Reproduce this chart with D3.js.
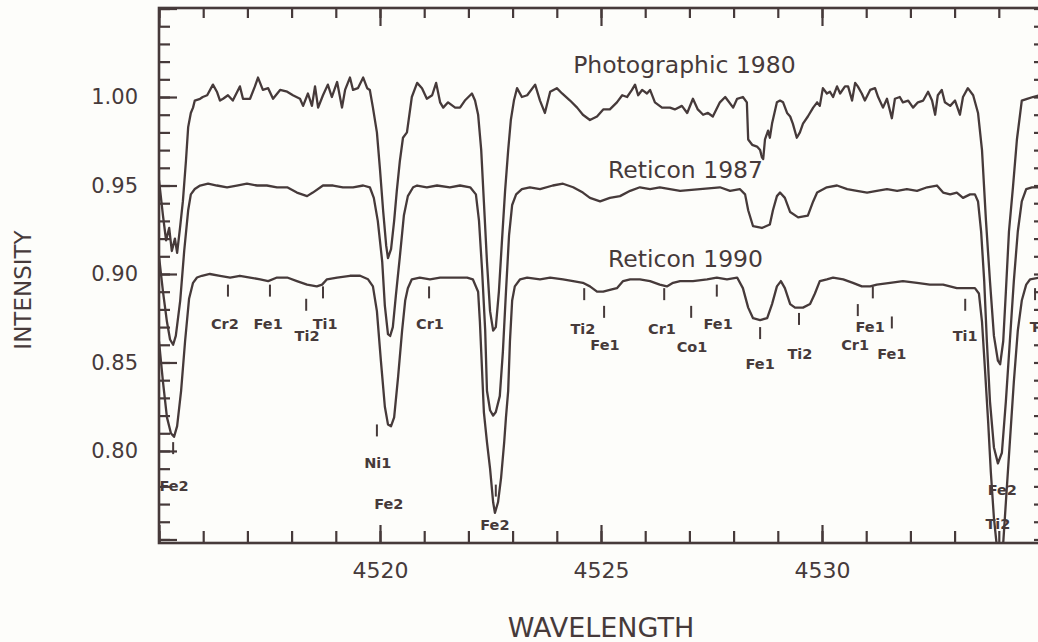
<html>
<head>
<meta charset="UTF-8"/>
<script src="https://d3js.org/d3.v7.min.js"></script>
<title>spectra</title>
<style>
body{margin:0;background:#fdfdfa;}
</style>
</head>
<body>
<svg id='big' width=1038 height=642></svg>
<script>
'use strict';

// axis ticks
var waveMajor = [4515, 4520, 4525, 4530, 4535];
var waveLabels = [4520, 4525, 4530];
var levelMajor = [0.75, 0.80, 0.85, 0.90, 0.95, 1.00, 1.05];
var levelLabels = [0.80, 0.85, 0.90, 0.95, 1.00];

var seriesNames = ['Photographic 1980', 'Reticon 1987', 'Reticon 1990'];

// [wavelength, intensity]
var photographic1980 = [
[4515.00,0.953],[4515.09,0.933],[4515.16,0.919],[4515.23,0.926],[4515.29,0.913],[4515.36,0.920],
[4515.41,0.912],[4515.48,0.927],[4515.54,0.941],[4515.61,0.964],[4515.66,0.983],[4515.72,0.991],
[4515.77,0.994],[4515.81,0.998],[4515.93,0.999],[4515.99,1.000],[4516.09,1.001],[4516.22,1.007],
[4516.31,1.003],[4516.38,0.998],[4516.45,0.999],[4516.56,1.001],[4516.67,0.998],[4516.83,1.006],
[4516.90,0.999],[4517.06,0.999],[4517.17,1.006],[4517.24,1.011],[4517.35,1.004],[4517.47,1.005],
[4517.58,0.999],[4517.74,1.004],[4517.90,1.003],[4518.03,1.001],[4518.19,0.999],[4518.26,0.995],
[4518.37,1.002],[4518.46,0.995],[4518.53,1.006],[4518.60,0.994],[4518.71,1.001],[4518.82,1.007],
[4518.91,1.000],[4519.03,1.0085],[4519.14,0.994],[4519.21,1.004],[4519.32,1.011],[4519.39,1.004],
[4519.50,1.005],[4519.62,1.011],[4519.71,1.005],[4519.77,1.004],[4519.84,0.994],[4519.93,0.980],
[4520.00,0.959],[4520.07,0.936],[4520.14,0.916],[4520.18,0.909],[4520.25,0.914],[4520.32,0.930],
[4520.38,0.947],[4520.45,0.964],[4520.52,0.977],[4520.61,0.980],[4520.72,1.000],[4520.84,1.008],
[4520.95,1.005],[4521.06,0.999],[4521.18,1.001],[4521.27,1.008],[4521.36,0.997],[4521.43,0.994],
[4521.54,0.997],[4521.70,0.994],[4521.81,0.994],[4521.92,0.998],[4522.08,1.002],[4522.15,0.998],
[4522.22,0.990],[4522.29,0.970],[4522.35,0.941],[4522.42,0.907],[4522.49,0.879],[4522.56,0.868],
[4522.62,0.870],[4522.69,0.890],[4522.76,0.919],[4522.83,0.947],[4522.90,0.970],[4522.96,0.987],
[4523.03,0.998],[4523.10,1.005],[4523.21,1.000],[4523.33,1.001],[4523.51,1.007],[4523.62,0.998],
[4523.73,0.991],[4523.85,1.003],[4524.00,1.005],[4524.12,1.002],[4524.30,0.998],[4524.46,0.994],
[4524.59,0.990],[4524.75,0.987],[4524.91,0.989],[4525.05,0.993],[4525.20,0.993],[4525.36,0.997],
[4525.48,1.001],[4525.59,1.000],[4525.70,1.004],[4525.77,1.007],[4525.84,1.001],[4525.93,1.004],
[4526.04,1.002],[4526.11,1.004],[4526.22,0.997],[4526.38,0.994],[4526.56,0.994],[4526.67,0.993],
[4526.83,0.995],[4526.95,0.991],[4527.08,0.999],[4527.19,0.993],[4527.31,0.990],[4527.42,0.991],
[4527.53,0.989],[4527.69,0.997],[4527.81,1.000],[4527.87,0.998],[4527.99,0.994],[4528.08,0.999],
[4528.21,1.000],[4528.30,0.997],[4528.33,0.976],[4528.42,0.973],[4528.53,0.972],[4528.60,0.970],
[4528.64,0.966],[4528.67,0.965],[4528.71,0.976],[4528.78,0.981],[4528.82,0.977],[4528.87,0.985],
[4528.98,0.997],[4529.05,0.998],[4529.12,0.997],[4529.21,0.991],[4529.28,0.989],[4529.34,0.985],
[4529.43,0.977],[4529.50,0.980],[4529.57,0.985],[4529.68,0.989],[4529.80,0.994],[4529.89,0.997],
[4529.95,0.995],[4530.02,1.005],[4530.11,1.002],[4530.18,1.003],[4530.25,1.000],[4530.34,1.006],
[4530.41,1.002],[4530.52,1.006],[4530.59,1.006],[4530.68,0.998],[4530.75,1.008],[4530.81,1.006],
[4530.90,1.002],[4530.97,0.998],[4531.09,1.004],[4531.20,1.005],[4531.27,1.000],[4531.38,0.994],
[4531.47,0.999],[4531.58,0.988],[4531.65,0.999],[4531.76,1.000],[4531.83,0.997],[4531.95,0.998],
[4532.06,0.994],[4532.17,0.997],[4532.29,0.998],[4532.40,1.003],[4532.49,0.998],[4532.56,0.990],
[4532.62,1.001],[4532.71,1.004],[4532.78,0.997],[4532.90,0.995],[4533.01,0.998],[4533.12,0.990],
[4533.19,1.000],[4533.30,1.005],[4533.42,1.001],[4533.53,0.991],[4533.62,0.970],[4533.71,0.930],
[4533.80,0.896],[4533.89,0.865],[4533.98,0.851],[4534.03,0.849],[4534.10,0.862],[4534.16,0.890],
[4534.23,0.924],[4534.32,0.949],[4534.41,0.976],[4534.52,0.998],[4534.64,0.999],[4534.77,1.000],
[4534.93,1.001]
];

var reticon1987 = [
[4515.00,0.910],[4515.09,0.890],[4515.18,0.873],[4515.25,0.863],[4515.32,0.860],[4515.38,0.865],
[4515.48,0.885],[4515.57,0.913],[4515.66,0.936],[4515.72,0.945],[4515.81,0.948],[4515.93,0.950],
[4516.11,0.951],[4516.31,0.950],[4516.54,0.949],[4516.76,0.950],[4516.99,0.951],[4517.22,0.950],
[4517.44,0.950],[4517.67,0.949],[4517.90,0.949],[4518.12,0.946],[4518.35,0.944],[4518.48,0.946],
[4518.71,0.950],[4518.94,0.950],[4519.16,0.949],[4519.39,0.949],[4519.62,0.950],[4519.77,0.949],
[4519.86,0.943],[4519.95,0.930],[4520.05,0.907],[4520.11,0.882],[4520.18,0.866],[4520.23,0.865],
[4520.29,0.870],[4520.36,0.888],[4520.45,0.910],[4520.54,0.933],[4520.63,0.944],[4520.75,0.949],
[4520.84,0.950],[4521.06,0.949],[4521.29,0.950],[4521.58,0.949],[4521.81,0.950],[4522.04,0.949],
[4522.17,0.945],[4522.24,0.930],[4522.31,0.902],[4522.38,0.868],[4522.42,0.834],[4522.49,0.823],
[4522.56,0.820],[4522.62,0.822],[4522.71,0.831],[4522.78,0.856],[4522.85,0.890],[4522.92,0.922],
[4522.99,0.939],[4523.08,0.945],[4523.21,0.948],[4523.39,0.949],[4523.62,0.948],[4523.91,0.950],
[4524.14,0.951],[4524.37,0.949],[4524.59,0.946],[4524.75,0.943],[4524.98,0.941],[4525.20,0.943],
[4525.43,0.944],[4525.66,0.947],[4525.88,0.949],[4526.11,0.948],[4526.33,0.949],[4526.79,0.947],
[4527.24,0.948],[4527.69,0.949],[4527.92,0.947],[4528.14,0.948],[4528.26,0.945],[4528.33,0.936],
[4528.44,0.927],[4528.64,0.926],[4528.82,0.928],[4528.89,0.936],[4528.98,0.944],[4529.05,0.946],
[4529.16,0.943],[4529.28,0.935],[4529.46,0.932],[4529.68,0.933],[4529.80,0.941],[4529.89,0.946],
[4530.11,0.949],[4530.34,0.950],[4530.57,0.948],[4530.79,0.947],[4531.02,0.946],[4531.24,0.947],
[4531.47,0.948],[4531.70,0.947],[4531.92,0.948],[4532.15,0.947],[4532.38,0.949],[4532.60,0.950],
[4532.74,0.946],[4532.90,0.945],[4533.05,0.946],[4533.19,0.943],[4533.35,0.945],[4533.46,0.945],
[4533.53,0.941],[4533.60,0.924],[4533.67,0.896],[4533.73,0.862],[4533.80,0.828],[4533.89,0.802],
[4533.98,0.793],[4534.07,0.799],[4534.16,0.828],[4534.25,0.862],[4534.34,0.896],[4534.43,0.924],
[4534.52,0.941],[4534.62,0.948],[4534.75,0.949],[4534.93,0.949]
];

var reticon1990 = [
[4515.00,0.862],[4515.09,0.839],[4515.18,0.819],[4515.27,0.810],[4515.34,0.808],[4515.41,0.814],
[4515.50,0.834],[4515.59,0.862],[4515.68,0.886],[4515.77,0.895],[4515.86,0.898],[4515.97,0.899],
[4516.15,0.900],[4516.38,0.899],[4516.61,0.898],[4516.83,0.899],[4517.06,0.898],[4517.29,0.897],
[4517.47,0.896],[4517.67,0.898],[4517.90,0.898],[4518.12,0.896],[4518.35,0.894],[4518.57,0.893],
[4518.69,0.894],[4518.80,0.897],[4519.03,0.898],[4519.32,0.899],[4519.55,0.899],[4519.73,0.897],
[4519.84,0.893],[4519.93,0.879],[4520.02,0.851],[4520.11,0.825],[4520.18,0.815],[4520.25,0.814],
[4520.32,0.819],[4520.41,0.842],[4520.50,0.868],[4520.57,0.885],[4520.63,0.892],[4520.72,0.897],
[4520.90,0.898],[4521.13,0.897],[4521.36,0.898],[4521.65,0.898],[4521.97,0.898],[4522.10,0.897],
[4522.22,0.890],[4522.26,0.873],[4522.31,0.845],[4522.35,0.822],[4522.42,0.805],[4522.49,0.790],
[4522.56,0.771],[4522.60,0.765],[4522.67,0.771],[4522.74,0.785],[4522.81,0.805],[4522.85,0.819],
[4522.90,0.834],[4522.94,0.862],[4522.99,0.885],[4523.05,0.893],[4523.17,0.897],[4523.33,0.898],
[4523.62,0.897],[4523.85,0.898],[4524.14,0.897],[4524.37,0.896],[4524.59,0.895],[4524.75,0.893],
[4524.91,0.890],[4525.05,0.890],[4525.20,0.891],[4525.36,0.892],[4525.50,0.896],[4525.66,0.897],
[4525.88,0.897],[4526.11,0.896],[4526.33,0.894],[4526.49,0.893],[4526.63,0.895],[4526.79,0.896],
[4527.08,0.896],[4527.40,0.897],[4527.62,0.898],[4527.85,0.897],[4528.08,0.898],[4528.21,0.892],
[4528.33,0.881],[4528.44,0.875],[4528.60,0.874],[4528.76,0.875],[4528.87,0.883],[4528.98,0.893],
[4529.07,0.896],[4529.16,0.892],[4529.28,0.883],[4529.39,0.881],[4529.57,0.881],[4529.73,0.883],
[4529.84,0.889],[4529.95,0.896],[4530.11,0.897],[4530.25,0.898],[4530.48,0.897],[4530.70,0.895],
[4530.90,0.893],[4531.09,0.893],[4531.24,0.894],[4531.54,0.895],[4531.83,0.896],[4532.15,0.895],
[4532.44,0.894],[4532.74,0.894],[4533.05,0.892],[4533.28,0.892],[4533.46,0.892],[4533.55,0.889],
[4533.62,0.873],[4533.69,0.845],[4533.76,0.816],[4533.82,0.788],[4533.89,0.762],[4533.96,0.745],
[4534.03,0.740],[4534.10,0.748],[4534.16,0.771],[4534.25,0.805],[4534.34,0.839],[4534.43,0.868],
[4534.52,0.885],[4534.62,0.894],[4534.71,0.897],[4534.93,0.898]
];

// line identifications: tick at wave/top, label at lw/ly
var lineIds = [
{name:'Fe2', wave:4515.32, top:0.805, lw:4515.34, ly:0.780},
{name:'Cr2', wave:4516.56, top:0.894, lw:4516.49, ly:0.872},
{name:'Fe1', wave:4517.51, top:0.894, lw:4517.47, ly:0.872},
{name:'Ti2', wave:4518.33, top:0.886, lw:4518.35, ly:0.865},
{name:'Ti1', wave:4518.71, top:0.893, lw:4518.76, ly:0.872},
{name:'Ni1', wave:4519.93, top:0.815, lw:4519.95, ly:0.793},
{name:'Fe2', wave:null,    top:null,  lw:4520.20, ly:0.770},
{name:'Cr1', wave:4521.11, top:0.893, lw:4521.13, ly:0.872},
{name:'Fe2', wave:4522.62, top:0.781, lw:4522.60, ly:0.758},
{name:'Ti2', wave:4524.62, top:0.892, lw:4524.59, ly:0.869},
{name:'Fe1', wave:4525.07, top:0.882, lw:4525.09, ly:0.860},
{name:'Cr1', wave:4526.43, top:0.892, lw:4526.38, ly:0.869},
{name:'Co1', wave:4527.04, top:0.882, lw:4527.06, ly:0.859},
{name:'Fe1', wave:4527.62, top:0.894, lw:4527.65, ly:0.872},
{name:'Fe1', wave:4528.60, top:0.870, lw:4528.60, ly:0.849},
{name:'Ti2', wave:4529.48, top:0.878, lw:4529.50, ly:0.855},
{name:'Cr1', wave:4530.81, top:0.883, lw:4530.75, ly:0.860},
{name:'Fe1', wave:4531.15, top:0.893, lw:4531.09, ly:0.870},
{name:'Fe1', wave:4531.58, top:0.876, lw:4531.58, ly:0.855},
{name:'Ti1', wave:4533.24, top:0.886, lw:4533.24, ly:0.865},
{name:'Ti1', wave:4534.82, top:0.892, lw:4534.98, ly:0.870},
{name:'Fe2', wave:null,    top:null,  lw:4534.08, ly:0.778},
{name:'Ti2', wave:null,    top:null,  lw:4533.98, ly:0.759}
];

var ink = '#463a3a';
var font = "'DejaVu Sans', sans-serif";

function init(){
	var svg = d3.select('#big');
	svg.sx = d3.scaleLinear().domain([4515, 4535]).range([159, 1043]);
	svg.sy = d3.scaleLinear().domain([0.748, 1.0503]).range([543, 8]);

	svg.append('rect')
	.attr('width', 1038).attr('height', 642)
	.attr('fill', '#fdfdfa');

	svg.append('clipPath')
	.attr('id', 'plotClip')
	.append('rect')
	.attr('x', 159).attr('y', 8)
	.attr('width', 884).attr('height', 535);
	return svg;
}

function drawAxis(svg, axis, tx, ty, size){
	var g = svg.append('g')
	.attr('transform', 'translate(' + tx + ',' + ty + ')')
	.call(axis);
	g.select('.domain').remove();
	g.selectAll('line').attr('stroke', ink).attr('stroke-width', 2.2);
	g.selectAll('text')
	.attr('fill', ink)
	.attr('font-family', font)
	.attr('font-size', size);
	return g;
}

function initPlot(svg){
	var sx = svg.sx, sy = svg.sy;
	var waveMinor = d3.range(4515, 4536, 1);
	var levelMinor = d3.range(75, 106, 1).map(function(d){ return d / 100; });
	var noText = function(){ return ''; };
	var waveText = function(d){ return waveLabels.indexOf(d) >= 0 ? d : ''; };

	// bottom
	drawAxis(svg, d3.axisBottom(sx).tickValues(waveMinor).tickSize(-12).tickFormat(noText), 0, 543);
	drawAxis(svg, d3.axisBottom(sx).tickValues(waveMajor).tickSize(-18).tickPadding(19).tickFormat(waveText), 0, 543, 22);
	// top
	drawAxis(svg, d3.axisTop(sx).tickValues(waveMinor).tickSize(-10).tickFormat(noText), 0, 8);
	drawAxis(svg, d3.axisTop(sx).tickValues(waveMajor).tickSize(-18).tickFormat(noText), 0, 8);
	// left
	drawAxis(svg, d3.axisLeft(sy).tickValues(levelMinor).tickSize(-11).tickFormat(noText), 159, 0);
	drawAxis(svg, d3.axisLeft(sy).tickValues(levelMajor).tickSize(-18).tickPadding(21)
		.tickFormat(function(d){ return levelLabels.indexOf(d) >= 0 ? d3.format('.2f')(d) : ''; }), 159, 0, 21);
	// right
	drawAxis(svg, d3.axisRight(sy).tickValues(levelMinor).tickSize(-9).tickFormat(noText), 1043, 0);

	svg.append('rect')
	.attr('x', 159).attr('y', 8)
	.attr('width', 884).attr('height', 535)
	.attr('fill', 'none')
	.attr('stroke', ink)
	.attr('stroke-width', 2.6);

	svg.append('text')
	.attr('x', 601).attr('y', 627)
	.attr('text-anchor', 'middle')
	.attr('dominant-baseline', 'central')
	.attr('font-family', font).attr('font-size', 27)
	.attr('fill', ink)
	.text('WAVELENGTH');

	svg.append('text')
	.attr('transform', 'translate(23,290) rotate(-90)')
	.attr('text-anchor', 'middle')
	.attr('dominant-baseline', 'central')
	.attr('font-family', font).attr('font-size', 23)
	.attr('fill', ink)
	.text('INTENSITY');
}

function drawSpectra(svg){
	var sx = svg.sx, sy = svg.sy;
	var line = d3.line()
	.x(function(d){ return sx(d[0]); })
	.y(function(d){ return sy(d[1]); });

	svg.append('g')
	.attr('clip-path', 'url(#plotClip)')
	.selectAll('path')
	.data([photographic1980, reticon1987, reticon1990])
	.enter()
	.append('path')
	.attr('d', line)
	.attr('fill', 'none')
	.attr('stroke', ink)
	.attr('stroke-width', 2.3)
	.attr('stroke-linejoin', 'round');

	// series names
	var namePos = [[4524.37, 1.018], [4525.16, 0.9588], [4525.16, 0.9085]];
	svg.selectAll('.sname')
	.data(seriesNames)
	.enter()
	.append('text')
	.attr('class', 'sname')
	.attr('x', function(d, i){ return sx(namePos[i][0]); })
	.attr('y', function(d, i){ return sy(namePos[i][1]); })
	.attr('dominant-baseline', 'central')
	.attr('font-family', font).attr('font-size', 23.5)
	.attr('fill', ink)
	.text(function(d){ return d; });
}

function drawIds(svg){
	var sx = svg.sx, sy = svg.sy;
	var withTick = lineIds.filter(function(d){ return d.wave != null; });
	svg.selectAll('.idtick')
	.data(withTick)
	.enter()
	.append('line')
	.attr('class', 'idtick')
	.attr('x1', function(d){ return sx(d.wave); })
	.attr('x2', function(d){ return sx(d.wave); })
	.attr('y1', function(d){ return sy(d.top); })
	.attr('y2', function(d){ return sy(d.top) + 12; })
	.attr('stroke', ink)
	.attr('stroke-width', 2);

	svg.selectAll('.idtext')
	.data(lineIds)
	.enter()
	.append('text')
	.attr('class', 'idtext')
	.attr('x', function(d){ return sx(d.lw); })
	.attr('y', function(d){ return sy(d.ly); })
	.attr('text-anchor', 'middle')
	.attr('dominant-baseline', 'central')
	.attr('font-family', font).attr('font-size', 14.5).attr('font-weight', 'bold')
	.attr('fill', ink)
	.text(function(d){ return d.name; });
}

function main(){
	var svg = init();
	initPlot(svg);
	drawSpectra(svg);
	drawIds(svg);
	return svg;
}

var svg = main();
</script>
</body>
</html>
